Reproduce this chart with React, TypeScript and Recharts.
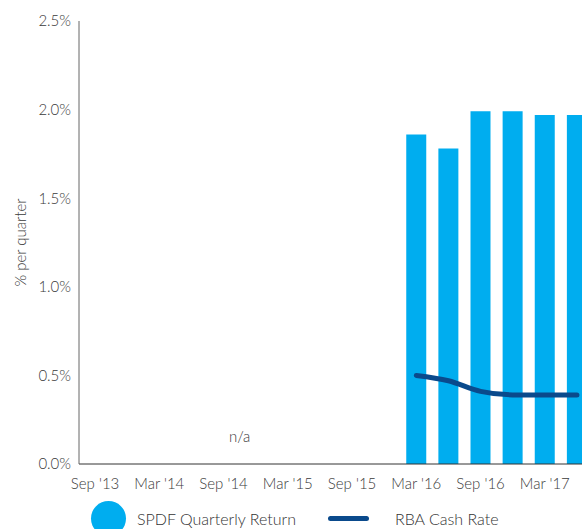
import { Bar, Line, XAxis, YAxis, Legend, ReferenceArea, ComposedChart } from 'recharts'

// quarterly periods
const quarters = [
  "Sep '13", "Dec '13", "Mar '14", "Jun '14", "Sep '14", "Dec '14", "Mar '15", "Jun '15",
  "Sep '15", "Dec '15", "Mar '16", "Jun '16", "Sep '16", "Dec '16", "Mar '17", "Jun '17",
]
const spdfReturn = [null, null, null, null, null, null, null, null, null, null, 1.86, 1.78, 1.99, 1.99, 1.97, 1.97]
const rbaCashRate = [null, null, null, null, null, null, null, null, null, null, 0.5, 0.47, 0.41, 0.39, 0.39, 0.39]
const yTicks = [0, 0.5, 1, 1.5, 2, 2.5]

const data = quarters.map((q, i) => ({ q, spdf: spdfReturn[i], rba: rbaCashRate[i] }))

const BLUE = '#00adef'
const NAVY = '#0a4a8c'
const FONT = 'Lato, "Open Sans", sans-serif'
const tickStyle = { fill: '#3a3a3a', fontSize: 15, fontFamily: FONT, fontWeight: 300 }

function LegendContent() {
  return (
    <div style={{ display: 'flex', alignItems: 'center', height: 35, marginTop: 7, fontFamily: FONT, fontWeight: 300, fontSize: 16, color: '#333' }}>
      <div style={{ width: 35, height: 35, borderRadius: '50%', background: BLUE, marginLeft: 91, flexShrink: 0 }} />
      <span style={{ marginLeft: 11, whiteSpace: 'nowrap' }}>SPDF Quarterly Return</span>
      <div style={{ width: 41, height: 5, borderRadius: 3, background: NAVY, marginLeft: 32, flexShrink: 0 }} />
      <span style={{ marginLeft: 26, whiteSpace: 'nowrap' }}>RBA Cash Rate</span>
    </div>
  )
}

export default function App() {
  return (
    <div style={{ position: 'absolute', left: 0, top: 0, width: 582, height: 529, overflow: 'hidden', background: '#fff' }}>
      <ComposedChart width={593} height={529} data={data} margin={{ top: 21, right: 0, left: 0, bottom: 0 }}>
        <XAxis
          dataKey="q"
          interval={1}
          tickLine={false}
          stroke="#333"
          tick={tickStyle}
          tickMargin={8}
          height={30}
        />
        <YAxis
          width={79}
          domain={[0, 2.5]}
          ticks={yTicks}
          tickLine={false}
          stroke="#666"
          tickFormatter={(v: number) => `${v.toFixed(1)}%`}
          tick={tickStyle}
          label={{ value: '% per quarter', angle: -90, position: 'insideLeft', offset: 21, style: { textAnchor: 'middle', ...tickStyle } }}
        />
        <ReferenceArea
          x1="Sep '13"
          x2="Dec '15"
          fillOpacity={0}
          strokeOpacity={0}
          label={{ value: 'n/a', position: 'insideBottom', offset: 22, ...tickStyle }}
        />
        <Bar dataKey="spdf" name="SPDF Quarterly Return" fill={BLUE} barSize={20} isAnimationActive={false} />
        <Line dataKey="rba" name="RBA Cash Rate" type="monotone" stroke={NAVY} strokeWidth={5} strokeLinecap="round" dot={false} isAnimationActive={false} />
        <Legend verticalAlign="bottom" height={35} content={() => <LegendContent />} wrapperStyle={{ left: 0, overflow: 'visible' }} />
      </ComposedChart>
    </div>
  )
}
